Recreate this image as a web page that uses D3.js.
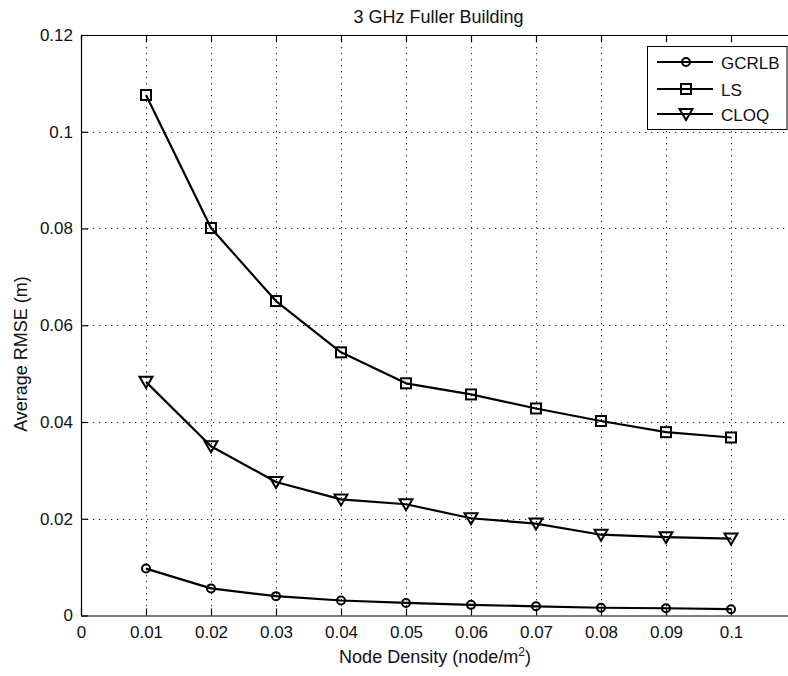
<!DOCTYPE html>
<html>
<head>
<meta charset="utf-8">
<script src="https://cdn.jsdelivr.net/npm/d3@7"></script>
<style>
  html, body { margin: 0; padding: 0; background: #fff; }
  svg { display: block; font-family: Arial, "Liberation Sans", sans-serif; }
</style>
</head>
<body>
<svg id="chart" width="788" height="676"></svg>
<script>
// Node density values (x) and average RMSE per method
const density = [0.01, 0.02, 0.03, 0.04, 0.05, 0.06, 0.07, 0.08, 0.09, 0.1];
const gcrlb = [0.0097, 0.0056, 0.0040, 0.0031, 0.0026, 0.0022, 0.0019, 0.0016, 0.0015, 0.0013];
const ls    = [0.1076, 0.0801, 0.0650, 0.0544, 0.0480, 0.0457, 0.0428, 0.0402, 0.0379, 0.0368];
const cloq  = [0.0483, 0.0350, 0.0276, 0.0240, 0.0230, 0.0201, 0.0190, 0.0167, 0.0162, 0.0159];

const seriesNames = ["GCRLB", "LS", "CLOQ"];
const seriesMarkers = ["circle", "square", "triangle"];

const xTicks = [0, 0.01, 0.02, 0.03, 0.04, 0.05, 0.06, 0.07, 0.08, 0.09, 0.1];
const xTickLabels = ["0", "0.01", "0.02", "0.03", "0.04", "0.05", "0.06", "0.07", "0.08", "0.09", "0.1"];
const yTicks = [0, 0.02, 0.04, 0.06, 0.08, 0.1, 0.12];
const yTickLabels = ["0", "0.02", "0.04", "0.06", "0.08", "0.1", "0.12"];

const titleText = "3 GHz Fuller Building";
const yLabelText = "Average RMSE (m)";

(function () {
  const svg = d3.select("#chart");
  const plotL = 81, plotR = 796, plotT = 35, plotB = 615.5;

  const x = d3.scaleLinear().domain([0, 0.11]).range([plotL, plotR]);
  const y = d3.scaleLinear().domain([0, 0.12]).range([plotB, plotT]);

  svg.append("rect").attr("width", 788).attr("height", 676).attr("fill", "#fff");

  // dotted grid
  const grid = svg.append("g").attr("stroke", "#222").attr("stroke-width", 1)
    .attr("stroke-dasharray", "1.3,4.7");
  grid.selectAll(".gx").data(xTicks.slice(1)).join("line")
    .attr("x1", d => Math.round(x(d)) + 0.5).attr("x2", d => Math.round(x(d)) + 0.5)
    .attr("y1", plotT).attr("y2", plotB);
  grid.selectAll(".gy").data(yTicks.slice(1)).join("line")
    .attr("y1", d => Math.round(y(d)) + 0.5).attr("y2", d => Math.round(y(d)) + 0.5)
    .attr("x1", plotL).attr("x2", plotR);

  // axes with inward ticks
  const fmtX = d => xTickLabels[xTicks.indexOf(d)];
  const fmtY = d => yTickLabels[yTicks.indexOf(d)];

  const xAxis = svg.append("g").attr("transform", `translate(0,${plotB})`)
    .call(d3.axisBottom(x).tickValues(xTicks).tickFormat(fmtX).tickSizeInner(-7).tickSizeOuter(0).tickPadding(10.5));
  const xAxisTop = svg.append("g").attr("transform", `translate(0,${plotT})`)
    .call(d3.axisTop(x).tickValues(xTicks).tickFormat("").tickSizeInner(-7).tickSizeOuter(0));
  const yAxis = svg.append("g").attr("transform", `translate(${plotL},0)`)
    .call(d3.axisLeft(y).tickValues(yTicks).tickFormat(fmtY).tickSizeInner(-7).tickSizeOuter(0).tickPadding(8));

  [xAxis, xAxisTop, yAxis].forEach(g => {
    g.select(".domain").attr("stroke", "#000").attr("stroke-width", 1.2);
    g.selectAll(".tick line").attr("stroke", "#000").attr("stroke-width", 1.2);
    g.selectAll("text").attr("fill", "#111").style("font-size", "17px")
      .style("font-family", "Arial, 'Liberation Sans', sans-serif");
  });

  // title and axis labels
  svg.append("text").attr("x", (plotL + plotR) / 2).attr("y", 22.5)
    .attr("text-anchor", "middle").attr("fill", "#111").style("font-size", "18px")
    .text(titleText);

  const xl = svg.append("text").attr("x", 435).attr("y", 663)
    .attr("text-anchor", "middle").attr("fill", "#111").style("font-size", "18px");
  xl.append("tspan").text("Node Density (node/m");
  xl.append("tspan").attr("dy", -7).style("font-size", "12px").text("2");
  xl.append("tspan").attr("dy", 7).text(")");

  svg.append("text").attr("transform", "translate(27,354) rotate(-90)")
    .attr("text-anchor", "middle").attr("fill", "#111").style("font-size", "18px")
    .text(yLabelText);

  // marker drawing
  function drawMarker(g, type, cx, cy) {
    if (type === "circle") {
      g.append("circle").attr("cx", cx).attr("cy", cy).attr("r", 4);
    } else if (type === "square") {
      g.append("rect").attr("x", cx - 5).attr("y", cy - 5).attr("width", 10).attr("height", 10);
    } else {
      g.append("path").attr("d", `M${cx - 6.5},${cy - 5}L${cx + 6.5},${cy - 5}L${cx},${cy + 6}Z`);
    }
  }

  const allSeries = [gcrlb, ls, cloq];
  const line = d3.line().x(d => x(d[0])).y(d => y(d[1]));

  allSeries.forEach((vals, i) => {
    const pts = density.map((d, j) => [d, vals[j]]);
    const g = svg.append("g");
    g.append("path").datum(pts).attr("d", line)
      .attr("fill", "none").attr("stroke", "#000").attr("stroke-width", 2.2)
      .attr("stroke-linejoin", "round");
    const mg = g.append("g").attr("fill", "none").attr("stroke", "#000").attr("stroke-width", 2);
    pts.forEach(p => drawMarker(mg, seriesMarkers[i], x(p[0]), y(p[1])));
  });

  // legend
  const lg = svg.append("g");
  lg.append("rect").attr("x", 647.5).attr("y", 46.5).attr("width", 139.5).attr("height", 83)
    .attr("fill", "#fff").attr("stroke", "#000").attr("stroke-width", 1);
  const legY = [62, 89, 114];
  seriesNames.forEach((name, i) => {
    lg.append("line").attr("x1", 657).attr("x2", 713).attr("y1", legY[i]).attr("y2", legY[i])
      .attr("stroke", "#000").attr("stroke-width", 2.2);
    const mg = lg.append("g").attr("fill", "none").attr("stroke", "#000").attr("stroke-width", 2);
    drawMarker(mg, seriesMarkers[i], 686, legY[i]);
    lg.append("text").attr("x", 721).attr("y", legY[i] + 6.5).attr("fill", "#111")
      .style("font-size", "17px").text(name);
  });
})();
</script>
</body>
</html>
